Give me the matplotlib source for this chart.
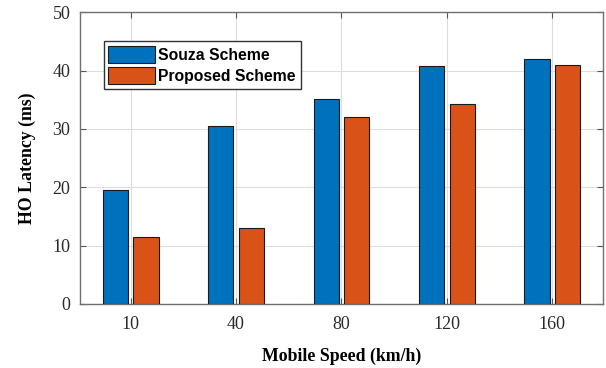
import matplotlib
matplotlib.use("Agg")
import matplotlib.pyplot as plt
import numpy as np

# mobile speeds and handover latency per scheme
speeds = ["10", "40", "80", "120", "160"]
souza_latency = [19.5, 30.5, 35.1, 40.8, 41.9]
proposed_latency = [11.5, 13.1, 32.1, 34.2, 41.0]
series_names = ["Souza Scheme", "Proposed Scheme"]

fig = plt.figure(figsize=(6.06, 3.68), dpi=100)
ax = fig.add_axes([0.132, 0.174, 0.863, 0.793])

x = np.arange(1, len(speeds) + 1)
w = 0.24
off = 0.145
ax.bar(x - off, souza_latency, w, color="#0072BD", edgecolor="#1a1a1a",
       linewidth=0.8, label=series_names[0], zorder=3)
ax.bar(x + off, proposed_latency, w, color="#D95319", edgecolor="#1a1a1a",
       linewidth=0.8, label=series_names[1], zorder=3)

ax.set_xlim(0.52, 5.48)
ax.set_ylim(0, 50)
ax.set_xticks(x)
ax.set_xticklabels(speeds)
ax.set_yticks(np.arange(0, 51, 10))

serif = ["Liberation Serif", "DejaVu Serif"]
for lab in ax.get_xticklabels() + ax.get_yticklabels():
    lab.set_fontfamily(serif)
    lab.set_fontsize(13)
    lab.set_color("#2a2a2a")

ax.tick_params(direction="in", top=True, right=True, length=4,
               color="#555555", width=0.8)
ax.tick_params(axis="x", pad=9)
ax.tick_params(axis="y", pad=7)

ax.grid(True, color="#dddddd", linewidth=0.8, zorder=0)
ax.set_axisbelow(True)
for s in ax.spines.values():
    s.set_color("#707070")
    s.set_linewidth(1.0)

ax.set_xlabel("Mobile Speed (km/h)", fontfamily=serif, fontweight="bold",
              fontsize=12.8, labelpad=10)
ax.set_ylabel("HO Latency (ms)", fontfamily=serif, fontweight="bold",
              fontsize=12.8, labelpad=12)

leg = ax.legend(loc="upper left", bbox_to_anchor=(0.045, 0.90),
                prop={"family": "Liberation Sans", "weight": "bold", "size": 11.3},
                fancybox=False, edgecolor="#333333", framealpha=1,
                handlelength=3.0, handleheight=1.3, handletextpad=0.2,
                borderpad=0.3, labelspacing=0.25, borderaxespad=0)
leg.get_frame().set_linewidth(1.0)

fig.savefig("out.png", dpi=100)
